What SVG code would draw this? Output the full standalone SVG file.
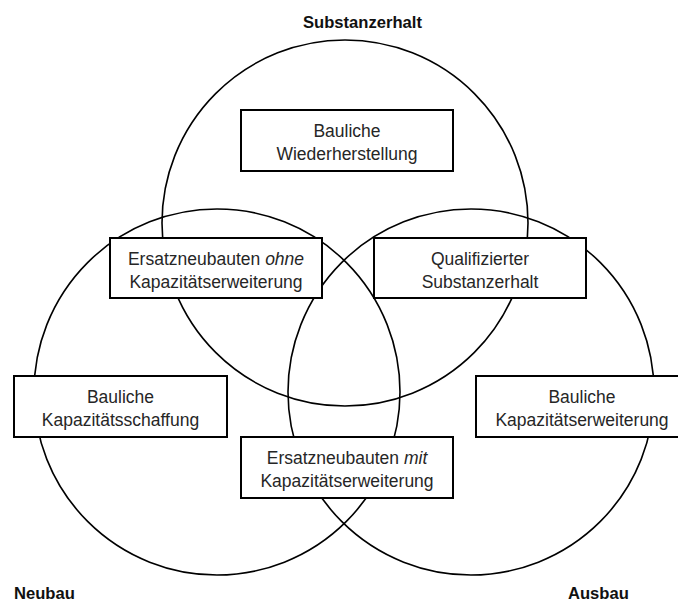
<svg xmlns="http://www.w3.org/2000/svg" width="678" height="603" viewBox="0 0 678 603">
  <style>
    .circle { fill: none; stroke: #000; stroke-width: 1.6; }
    .box { fill: #fff; stroke: #000; stroke-width: 2; }
    .txt { font-family: "Liberation Sans", Arial, sans-serif; font-size: 17.5px; fill: #262626; text-anchor: middle; }
    .set { font-family: "Liberation Sans", Arial, sans-serif; font-size: 16.6px; font-weight: bold; fill: #111; }
  </style>
  <rect width="678" height="603" fill="#fff"/>

  <!-- Three overlapping sets -->
  <g id="sets">
    <circle class="circle" cx="345" cy="223" r="183"/>
    <circle class="circle" cx="217" cy="392" r="183"/>
    <circle class="circle" cx="471" cy="392" r="183"/>
  </g>

  <!-- Set labels -->
  <text class="set" x="362.5" y="27.5" text-anchor="middle">Substanzerhalt</text>
  <text class="set" x="14" y="599">Neubau</text>
  <text class="set" x="568" y="599">Ausbau</text>

  <g id="bauliche-wiederherstellung">
    <rect class="box" x="241" y="110" width="212" height="61"/>
    <text class="txt" x="347" y="136.5">Bauliche</text>
    <text class="txt" x="347" y="159.5">Wiederherstellung</text>
  </g>

  <g id="ersatzneubauten-ohne">
    <rect class="box" x="110" y="238" width="212" height="60"/>
    <text class="txt" x="216" y="264.5">Ersatzneubauten <tspan font-style="italic">ohne</tspan></text>
    <text class="txt" x="216" y="287.5">Kapazitätserweiterung</text>
  </g>

  <g id="qualifizierter-substanzerhalt">
    <rect class="box" x="374" y="238" width="212" height="60"/>
    <text class="txt" x="480" y="264.5">Qualifizierter</text>
    <text class="txt" x="480" y="287.5">Substanzerhalt</text>
  </g>

  <g id="bauliche-kapazitaetsschaffung">
    <rect class="box" x="14" y="376" width="213" height="61"/>
    <text class="txt" x="120.5" y="402.5">Bauliche</text>
    <text class="txt" x="120.5" y="425.5">Kapazitätsschaffung</text>
  </g>

  <g id="bauliche-kapazitaetserweiterung">
    <rect class="box" x="476" y="376" width="212" height="61"/>
    <text class="txt" x="582" y="402.5">Bauliche</text>
    <text class="txt" x="582" y="425.5">Kapazitätserweiterung</text>
  </g>

  <g id="ersatzneubauten-mit">
    <rect class="box" x="241" y="437" width="212" height="61"/>
    <text class="txt" x="347" y="463.5">Ersatzneubauten <tspan font-style="italic">mit</tspan></text>
    <text class="txt" x="347" y="486.5">Kapazitätserweiterung</text>
  </g>
</svg>
